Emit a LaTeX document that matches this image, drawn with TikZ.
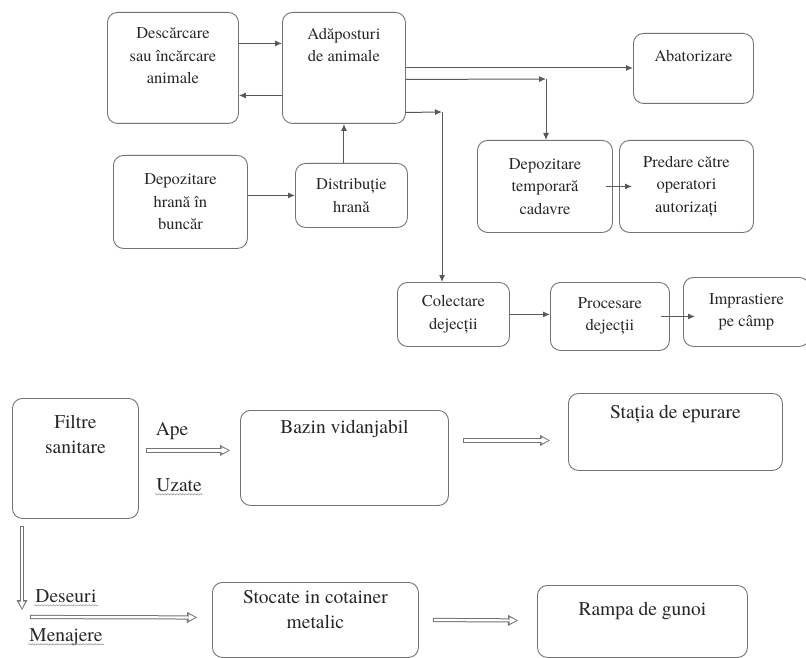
\documentclass[tikz,border=0pt]{standalone}
\usepackage{fontspec}
\IfFontExistsTF{texgyretermes-regular.otf}
  {\setmainfont{texgyretermes}[Extension=.otf,UprightFont=*-regular,BoldFont=*-bold,
    ItalicFont=*-italic,BoldItalicFont=*-bolditalic]}
  {\setmainfont{Liberation Serif}}
\usepackage{tikz}
\usetikzlibrary{positioning}
\usetikzlibrary{arrows.meta,calc,decorations.pathmorphing}

\newcommand{\topfnt}{\rmfamily\fontsize{16.5}{22.5}\selectfont}
\newcommand{\botfnt}{\rmfamily\fontsize{19.5}{25}\selectfont}
% text inside a box: width, height, (gap at top) and text
\newcommand{\midtxt}[3]{\parbox[t][#2][c]{#1}{\centering #3}}
\newcommand{\toptxt}[4]{\parbox[t][#2][t]{#1}{\centering\vspace*{#3}#4}}

\tikzset{
  blk/.style={draw=black!55, line width=0.9pt, rounded corners=10pt, inner sep=0pt,
    anchor=north west, text=black!85},
  flow/.style={draw=black!65, line width=1pt, -{Latex[length=7pt,width=6pt]}},
  hollow/.style={draw=black!55, line width=4.2pt, -{Triangle[length=10pt,width=11pt,line width=0pt]},
    postaction={draw=white, line width=2.2pt, shorten <=1pt, shorten >=1.8pt,
      -{Triangle[length=6.5pt,width=6.5pt,line width=0pt]}}},
  wavy/.style={draw=black!45, line width=0.5pt, decorate,
    decoration={snake,amplitude=0.7pt,segment length=3pt}},
}

\begin{document}
\begin{tikzpicture}[x=1pt,y=-1pt]
  \useasboundingbox (0,0) rectangle (806,658);
  % animals
  \node[blk,font=\topfnt] (desc) at (107,12) {\toptxt{131pt}{111pt}{15.5pt}{Descărcare\\sau încărcare\\animale}};
  \node[blk,font=\topfnt] (adap) at (282,12) {\toptxt{123pt}{111pt}{15.5pt}{Adăposturi\\de animale}};
  \node[blk,font=\topfnt] (depo) at (113,155) {\midtxt{134pt}{93pt}{Depozitare\\hrană în\\buncăr}};
  \node[blk,font=\topfnt] (dist) at (295,163) {\midtxt{112pt}{64pt}{Distribuție\\hrană}};
  \node[blk,font=\topfnt] (abat) at (633,33) {\toptxt{120pt}{70pt}{16.5pt}{Abatorizare}};
  \node[blk,font=\topfnt] (cad) at (477,140) {\midtxt{135pt}{92pt}{Depozitare\\temporară\\cadavre}};
  \node[blk,font=\topfnt] (pred) at (619,140) {\midtxt{134pt}{92pt}{Predare către\\operatori\\autorizați}};
  \node[blk,font=\topfnt] (colec) at (397,282) {\midtxt{112pt}{64pt}{Colectare\\dejecții}};
  \node[blk,font=\topfnt] (proc) at (550,282) {\midtxt{119pt}{68pt}{Procesare\\dejecții}};
  \node[blk,font=\topfnt] (impr) at (683,277) {\midtxt{126pt}{69pt}{Imprastiere\\pe câmp}};

  \coordinate (kc) at (546,79);
  \coordinate (vc) at (442,112);
  \draw[flow] ([yshift=24.5pt]desc.east) -- ([yshift=24.5pt]adap.west);
  \draw[flow] ([yshift=-27.5pt]adap.west) -- ([yshift=-27.5pt]desc.east);
  \draw[flow] (depo.east |- dist.west) -- (dist.west);
  \draw[flow] (dist.north -| adap.south) -- (adap.south);
  \draw[flow] (adap.east) -- (adap.east -| abat.west);
  \draw[flow] ([yshift=-11.5pt]adap.east) -- (kc);
  \draw[flow] (kc) -- (kc |- cad.north);
  \draw[flow] ([yshift=-44.5pt]adap.east) -- (vc);
  \draw[flow] (vc) -- (vc |- colec.north);
  \draw[flow,shorten <=-7pt,shorten >=-13pt] (cad.east) -- (pred.west);
  \draw[flow] (colec.east) -- (colec.east -| proc.west);
  \draw[flow,shorten <=-9pt,shorten >=-12pt] (proc.east) -- (proc.east -| impr.west);

  % waste
  \node[blk,font=\botfnt] (filt) at (12,398) {\toptxt{126pt}{120pt}{16.5pt}{Filtre\\sanitare}};
  \node[blk,font=\botfnt] (baz) at (240,410) {\toptxt{208pt}{95pt}{9.5pt}{Bazin vidanjabil}};
  \node[blk,font=\botfnt] (stat) at (568,393) {\toptxt{214pt}{77pt}{11.5pt}{Stația de epurare}};
  \node[blk,font=\botfnt] (stoc) at (212,582) {\toptxt{206pt}{75pt}{7.5pt}{Stocate in cotainer\\metalic}};
  \node[blk,font=\botfnt] (ramp) at (537,585) {\toptxt{210pt}{72pt}{16.5pt}{Rampa de gunoi}};

  \node[font=\botfnt,text=black!85,inner sep=1pt] (ape) at (172,431) {Ape};
  \node[font=\botfnt,text=black!85,inner sep=1pt] (uz) at (179,485) {Uzate};
  \node[font=\botfnt,text=black!85,inner sep=1pt] (des) at (66,596) {Deseuri};
  \node[font=\botfnt,text=black!85,inner sep=1pt] (men) at (66,637) {Menajere};
  \coordinate (dn) at (22,610);
  \coordinate (lf) at (30,617);

  \draw[hollow] ($(filt.east)+(7,-8)$) -- ($(baz.west)+(-10,-7.5)$);
  \draw[hollow] ($(baz.east)+(14,-17.5)$) -- ($(stat.west)+(-18,8.5)$);
  \draw[hollow] ($(filt.south west)+(10,7)$) -- (dn);
  \draw[hollow] (lf) -- ($(stoc.west)+(-15,-2.5)$);
  \draw[hollow] ($(stoc.east)+(14,0)$) -- ($(ramp.west)+(-19,-1)$);

  \draw[wavy] ([yshift=-3pt]uz.base west) -- ([yshift=-3pt]uz.base east);
  \draw[wavy] ([yshift=-3pt]des.base west) -- ([yshift=-3pt]des.base east);
  \draw[wavy] ([yshift=-3pt]men.base west) -- ([yshift=-3pt]men.base east);
\end{tikzpicture}
\end{document}
